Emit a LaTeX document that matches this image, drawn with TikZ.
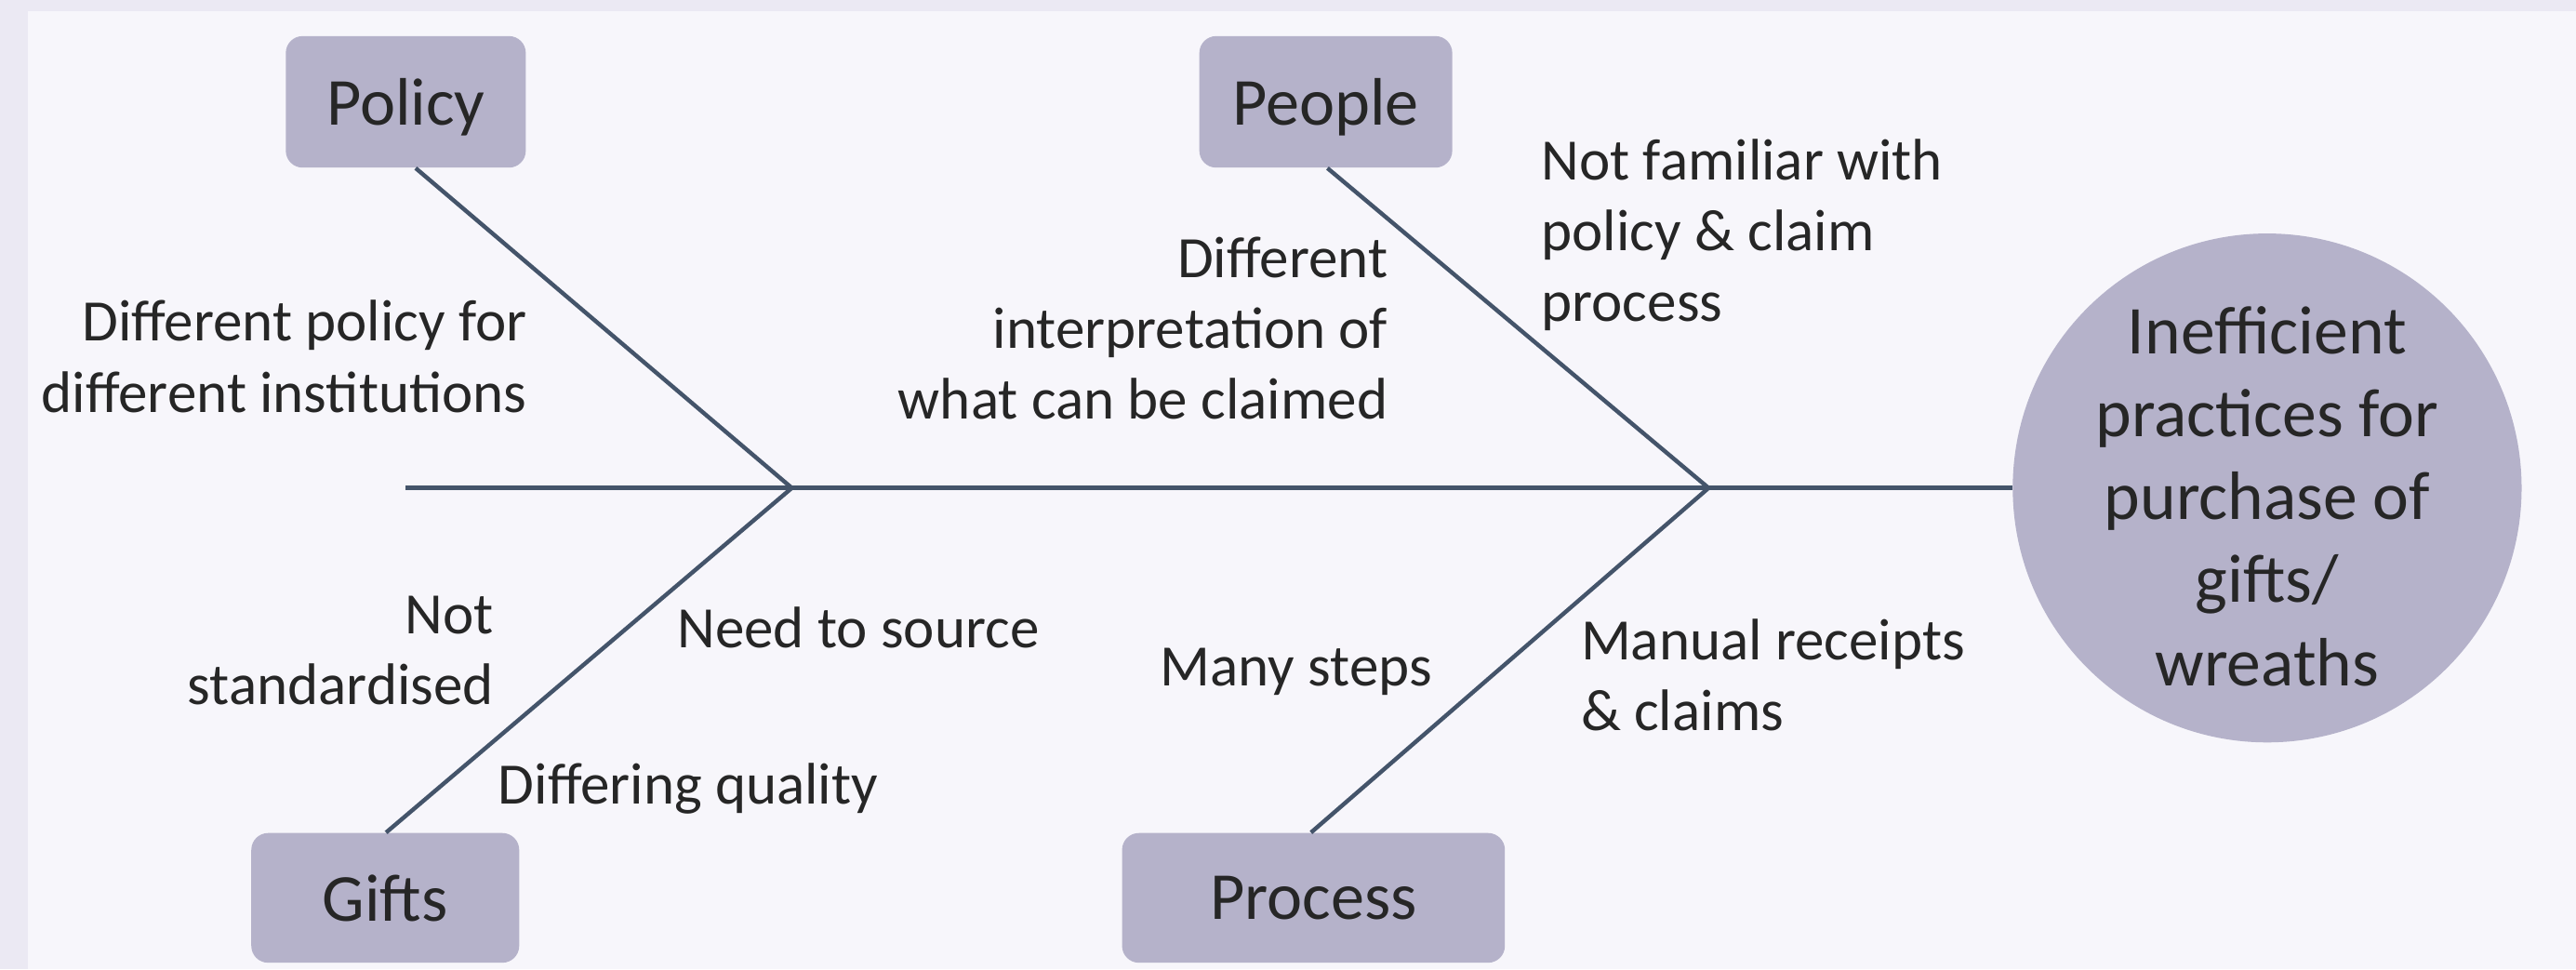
\documentclass[tikz,border=0pt]{standalone}
\usepackage{fontspec}
\setmainfont{Carlito}
\usetikzlibrary{calc}
\definecolor{outerbg}{HTML}{EBE9F3}
\definecolor{innerbg}{HTML}{F7F6FB}
\definecolor{boxfill}{HTML}{B5B2CA}
\definecolor{bone}{HTML}{44546A}
\definecolor{txt}{HTML}{262626}
\begin{document}
\begin{tikzpicture}[x=0.636pt,y=-0.636pt,
  cat/.style={fill=boxfill,rounded corners=6.5pt,inner sep=0pt,text depth=0pt,text=txt,font=\fontsize{26}{31}\selectfont},
  lbl/.style={inner sep=0pt,text=txt,font=\fontsize{22.7}{27.4}\selectfont},
  bonestyle/.style={draw=bone,line width=1.6pt}]
\useasboundingbox (0,0) rectangle (1568,590);
\fill[outerbg] (0,0) rectangle (1568,590);
\fill[innerbg] (17,7) rectangle (1568,590);
% category boxes
\node[cat,minimum width=92.9pt,minimum height=50.9pt] (policy) at (247,62) {Policy};
\node[cat,minimum width=97.9pt,minimum height=50.9pt] (people) at (807,62) {People};
\node[cat,minimum width=103.7pt,minimum height=50.2pt] (gifts) at (234.5,546.5) {Gifts};
\node[cat,minimum width=148.2pt,minimum height=50.2pt] (process) at (799.5,546.5) {Process};
% effect
\node[circle,fill=boxfill,minimum size=197pt,inner sep=0pt] (effect) at (1380,297) {};
\node[inner sep=0pt,align=center,text=txt,font=\fontsize{26.5}{32.1}\selectfont] (effecttext) at (1380,302)
  {Inefficient\\practices for\\purchase of\\gifts/\\wreaths};
% spine
\coordinate (tail) at (247,297);
\coordinate (j1) at (482,297);
\coordinate (j2) at (1040,297);
\draw[bonestyle] (tail) -- (effect.west);
\draw[bonestyle] (j1) -- ($(policy.south)+(6,0)$);
\draw[bonestyle] (j2) -- ($(people.south)+(1,0)$);
\draw[bonestyle] (j1) -- ($(gifts.north)+(0.5,0)$);
\draw[bonestyle] (j2) -- ($(process.north)+(-1.5,0)$);
% labels
\node[lbl,anchor=east,align=right] (t1) at (321,217) {Different policy for\\different institutions};
\node[lbl,anchor=east,align=right] (t2) at (845,200) {Different\\interpretation of\\what can be claimed};
\node[lbl,anchor=west,align=left] (t3) at (938,143) {Not familiar with\\policy \& claim\\process};
\node[lbl,anchor=west,align=right] (t4) at (114,396) {Not\\standardised};
\node[lbl,anchor=west] (t5) at (412,382) {Need to source};
\node[lbl,anchor=west] (t6) at (303,480) {Differing quality};
\node[lbl,anchor=west] (t7) at (706,409) {Many steps};
\node[lbl,anchor=west,align=left] (t8) at (962,411) {Manual receipts\\\& claims};
\end{tikzpicture}
\end{document}
